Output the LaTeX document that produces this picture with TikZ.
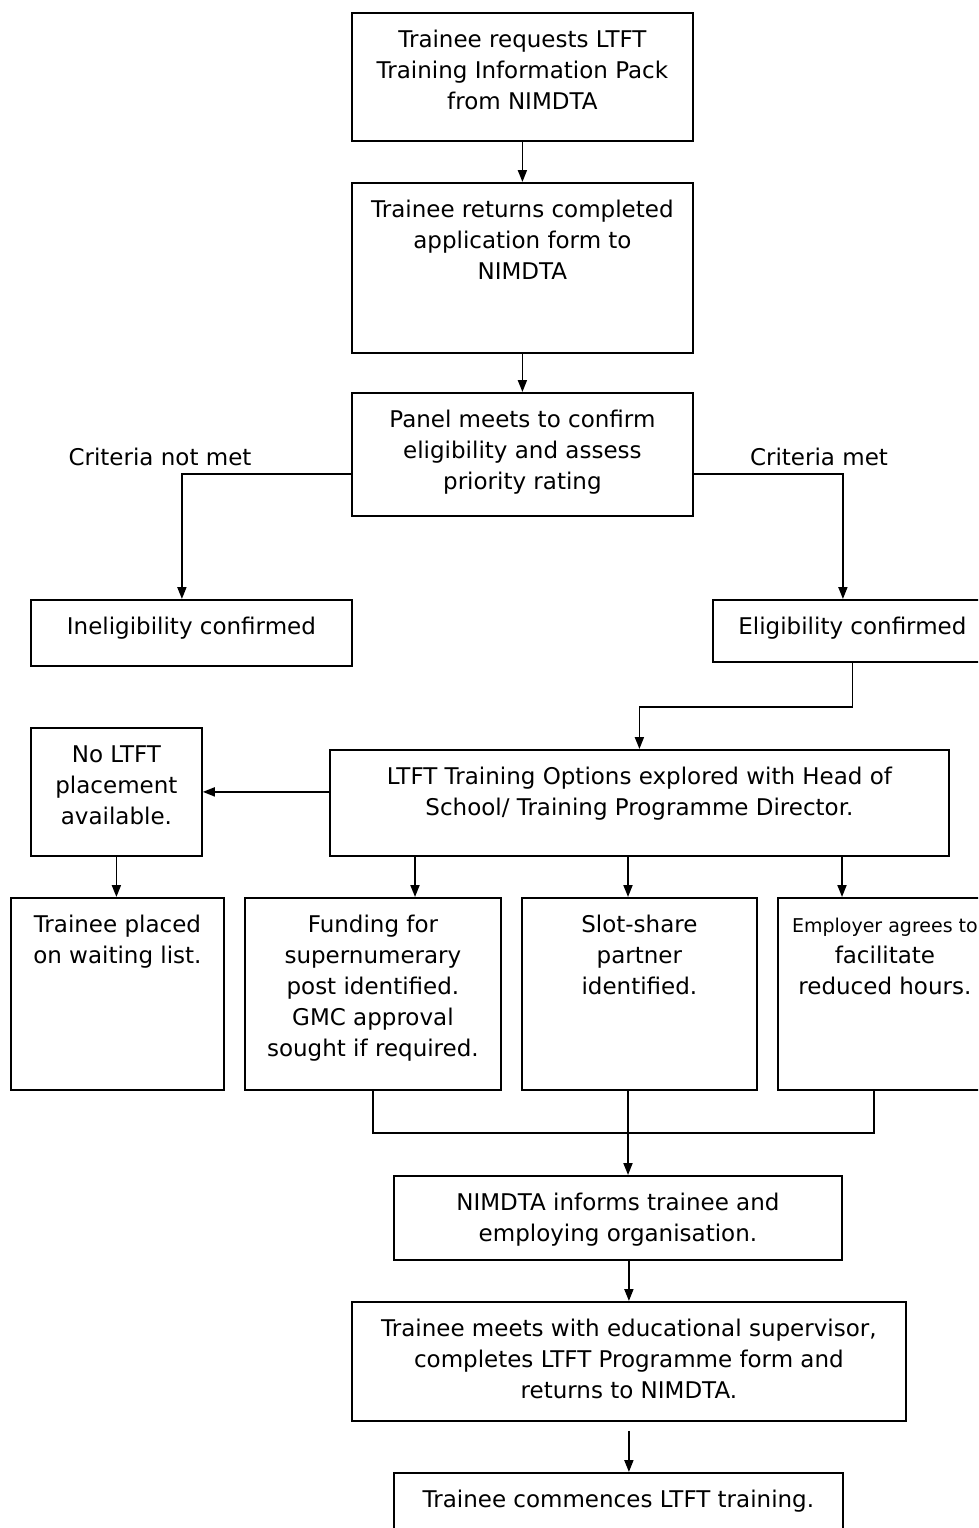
\documentclass[tikz,border=0pt]{standalone}
\usepackage{fontspec}
\setmainfont{DejaVu Sans}
\usetikzlibrary{arrows.meta, positioning}

\tikzset{
  flowbox/.style 2 args={draw, line width=1.8pt, inner sep=0pt, anchor=north west,
    execute at begin node={\begin{minipage}[t][#2pt][t]{#1pt}\centering\vspace*{13pt}\strut},
    execute at end node={\end{minipage}}},
  arr/.style={-{Triangle[length=12pt,width=9pt]}, line width=1.8pt},
  link/.style={line width=1.8pt},
}

\begin{document}
\begin{tikzpicture}[x=1pt, y=-1pt, font=\fontsize{23pt}{31pt}\selectfont]
    \useasboundingbox (0,0) rectangle (978,1528);
    \clip (0,0) rectangle (978,1528);
    % application and panel
    \node[flowbox={341}{128}] (req) at (351,12) {Trainee requests LTFT\\Training Information Pack\\from NIMDTA};
    \node[flowbox={341}{170}] (ret) at (351,182) {Trainee returns completed\\application form to\\NIMDTA};
    \node[flowbox={341}{123}] (panel) at (351,392) {Panel meets to confirm\\eligibility and assess\\priority rating};
    \node (notmet) at (160,457) {Criteria not met};
    \node (met) at (819,457) {Criteria met};
    \node[flowbox={321}{66}] (inel) at (30,599) {Ineligibility confirmed};
    \node[flowbox={279}{62}] (elig) at (712,599) {Eligibility confirmed};
    % options
    \node[flowbox={171}{128}] (nolt) at (30,727) {No LTFT\\placement\\available.};
    \node[flowbox={619}{106}] (opts) at (329,749) {LTFT Training Options explored with Head of\\School/ Training Programme Director.};
    \node[flowbox={213}{192}] (wait) at (10,897) {Trainee placed\\on waiting list.};
    \node[flowbox={256}{192}] (fund) at (244,897) {Funding for\\supernumerary\\post identified.\\GMC approval\\sought if required.};
    \node[flowbox={235}{192}] (slot) at (521,897) {Slot-share\\partner\\identified.};
    \node[flowbox={214}{192}] (empl) at (777,897) {{\fontsize{19pt}{31pt}\selectfont Employer agrees to}\\facilitate\\reduced hours.};
    % outcome
    \node[flowbox={448}{84}] (nimd) at (393,1175) {NIMDTA informs trainee and\\employing organisation.};
    \node[flowbox={554}{119}] (meets) at (351,1301) {Trainee meets with educational supervisor,\\completes LTFT Programme form and\\returns to NIMDTA.};
    \node[flowbox={449}{70}] (comm) at (393,1472) {Trainee commences LTFT training.};

    \draw[arr] (req.south) -- (ret.north);
    \draw[arr] (ret.south) -- (panel.north);
    \draw[arr] ([yshift=-19.5pt]panel.west) -| ([xshift=-9.5pt]inel.north);
    \draw[arr] ([yshift=-19.5pt]panel.east) -| ([xshift=-9.5pt]elig.north);
    \draw[arr] (elig.south) -- ++(0,44) -| (opts.north);
    \draw[arr] (opts.west |- nolt.east) -- (nolt.east);
    \draw[arr] (nolt.south) -- (nolt.south |- wait.north);
    \foreach \x/\b in {415/fund, 628/slot, 842/empl}
      \draw[arr] (opts.south -| \x,0) -- (\b.north -| \x,0);
    \draw[link] (fund.south) -- ++(0,42) -| ([xshift=-11pt]empl.south);
    \draw[arr] (slot.south -| 628,0) -- (nimd.north -| 628,0);
    \draw[arr] (nimd.south -| meets.north) -- (meets.north);
    \draw[arr] ([yshift=-9pt]meets.south) -- (comm.north -| meets.south);
\end{tikzpicture}
\end{document}
